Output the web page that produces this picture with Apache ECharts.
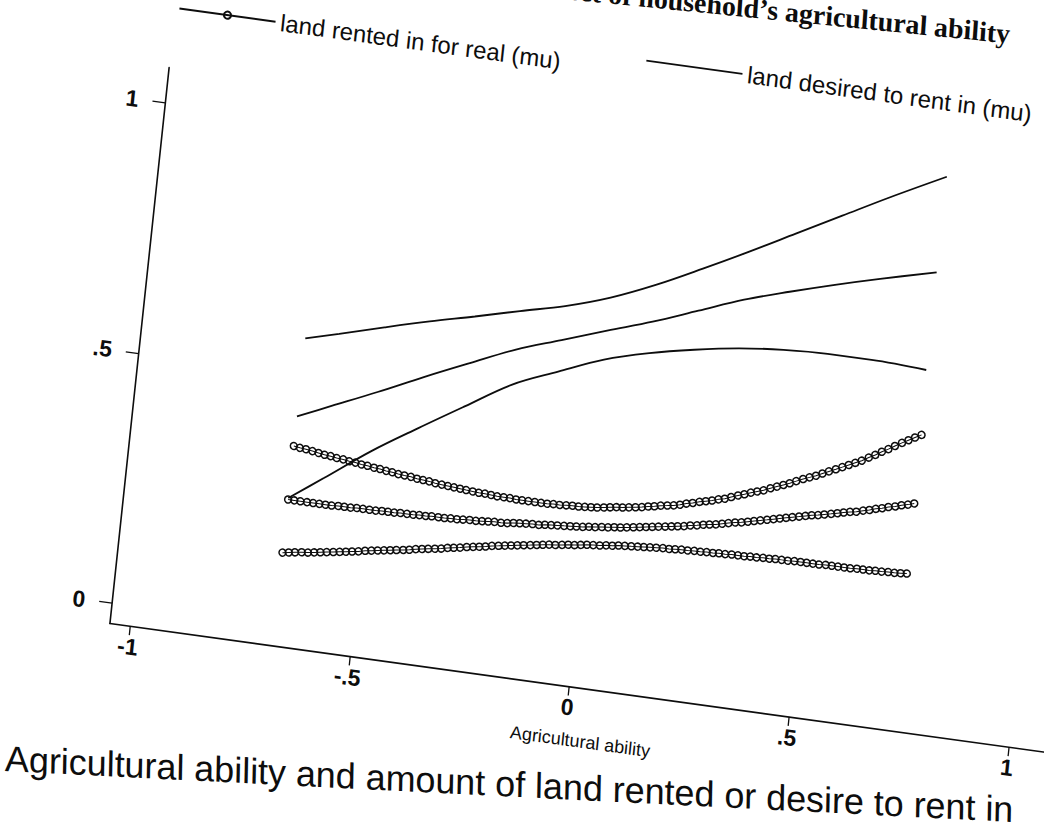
<!DOCTYPE html>
<html>
<head>
<meta charset="utf-8">
<script src="https://cdn.jsdelivr.net/npm/echarts@6/dist/echarts.min.js"></script>
<style>
  html, body { margin: 0; padding: 0; background: #fff; overflow: hidden; width: 1044px; height: 828px; }
  #chart {
    position: absolute; left: 0; top: 0; width: 1250px; height: 1050px;
    transform-origin: 0 0;
    transform: matrix(0.99076, 0.13638, -0.10588, 0.99444, -1.51, -218.16);
  }
</style>
</head>
<body>
<div id="chart"></div>
<script>
// ---- data ----
const titleText = "Effect of household\u2019s agricultural ability";
const captionText = "Agricultural ability and amount of land rented or desire to rent in";
const xAxisName = "Agricultural ability";
const seriesRentedName = "land rented in for real (mu)";
const seriesDesiredName = "land desired to rent in (mu)";
const xTickValues = [-1, -0.5, 0, 0.5, 1];
const yTickValues = [0, 0.5, 1];

// evaluation grid of the local fit for "land rented in" (one circle per point)
const abilityGrid = [
  -0.675,-0.661,-0.647,-0.632,-0.618,-0.604,-0.590,-0.576,-0.561,-0.547,
  -0.533,-0.519,-0.505,-0.490,-0.476,-0.462,-0.448,-0.434,-0.420,-0.405,
  -0.391,-0.377,-0.363,-0.349,-0.334,-0.320,-0.306,-0.292,-0.278,-0.263,
  -0.249,-0.235,-0.221,-0.207,-0.192,-0.178,-0.164,-0.150,-0.136,-0.121,
  -0.107,-0.093,-0.079,-0.065,-0.050,-0.036,-0.022,-0.008,0.006,0.020,
  0.035,0.049,0.063,0.077,0.091,0.106,0.120,0.134,0.148,0.162,
  0.177,0.191,0.205,0.219,0.233,0.248,0.262,0.276,0.290,0.304,
  0.318,0.333,0.347,0.361,0.375,0.389,0.404,0.418,0.432,0.446,
  0.460,0.475,0.489,0.503,0.517,0.531,0.546,0.560,0.574,0.588,
  0.602,0.617,0.631,0.645,0.659,0.673,0.688,0.702,0.716,0.730
];
const rentedUpper = [
  .359,.357,.356,.354,.352,.350,.349,.347,.346,.344,
  .343,.341,.340,.338,.337,.335,.334,.332,.331,.330,
  .328,.327,.326,.324,.323,.322,.321,.320,.319,.318,
  .317,.317,.316,.315,.315,.315,.314,.314,.314,.314,
  .314,.314,.315,.315,.316,.317,.317,.318,.319,.320,
  .322,.324,.326,.327,.329,.331,.333,.336,.338,.341,
  .343,.345,.348,.352,.355,.359,.362,.365,.369,.372,
  .377,.382,.386,.391,.395,.399,.405,.410,.415,.420,
  .426,.432,.437,.442,.448,.454,.460,.466,.472,.478,
  .484,.492,.499,.507,.514,.522,.530,.537,.544,.551
];
const rentedFit = [
  .252,.252,.252,.252,.252,.252,.252,.252,.253,.253,
  .253,.254,.254,.254,.254,.255,.255,.255,.256,.256,
  .256,.257,.257,.258,.258,.258,.259,.259,.260,.261,
  .261,.262,.263,.264,.264,.265,.267,.268,.269,.270,
  .270,.272,.273,.274,.275,.276,.277,.278,.280,.281,
  .283,.284,.286,.287,.289,.291,.293,.295,.297,.299,
  .301,.303,.305,.307,.310,.312,.315,.317,.319,.322,
  .325,.328,.330,.333,.336,.339,.342,.345,.348,.351,
  .354,.357,.360,.363,.365,.368,.371,.374,.377,.380,
  .382,.386,.389,.393,.396,.400,.403,.407,.410,.414
];
const rentedLower = [
  .146,.148,.150,.152,.153,.155,.157,.159,.161,.163,
  .165,.167,.169,.172,.174,.176,.178,.180,.182,.184,
  .186,.189,.191,.193,.195,.197,.200,.202,.204,.207,
  .209,.211,.213,.216,.218,.220,.222,.224,.226,.228,
  .230,.232,.234,.235,.237,.239,.240,.242,.244,.245,
  .246,.248,.249,.251,.252,.253,.254,.255,.256,.257,
  .258,.258,.259,.260,.260,.261,.261,.262,.262,.263,
  .263,.264,.264,.264,.265,.265,.266,.266,.267,.267,
  .267,.268,.268,.268,.268,.268,.269,.269,.269,.269,
  .269,.270,.270,.270,.271,.271,.272,.272,.273,.274
];

// "land desired to rent in": fit and confidence band (solid lines)
const desiredGrid  = [-0.675,-0.6,-0.5,-0.4,-0.3,-0.2,-0.1,0,0.1,0.2,0.3,0.4,0.5,0.6,0.725];
const desiredUpper = [.574,.592,.617,.641,.663,.686,.708,.737,.775,.819,.865,.913,.961,1.009,1.066];
const desiredFit   = [.418,.448,.488,.530,.570,.609,.640,.671,.701,.735,.769,.797,.823,.847,.875];
const desiredLower = [.255,.304,.370,.428,.484,.539,.577,.613,.638,.657,.672,.681,.685,.685,.680];

// ---- build chart ----
const pairs = (xs, ys) => xs.map((x, i) => [x, ys[i]]);
const fmt = v => (v === 0 ? '0' : String(v).replace('0.', '.'));
const sans = "'Liberation Sans', Arial, Helvetica, sans-serif";
const ink = '#0d0d0d';

function rentedSeries(ys) {
  return {
    type: 'line', name: seriesRentedName, data: pairs(abilityGrid, ys),
    symbol: 'circle', symbolSize: 7, showSymbol: true, showAllSymbol: true,
    itemStyle: { color: 'rgba(255,255,255,0)', borderColor: ink, borderWidth: 1.5 },
    lineStyle: { color: ink, width: 1 },
    emphasis: { disabled: true }, silent: true, clip: false, z: 3
  };
}
function desiredSeries(ys) {
  return {
    type: 'line', name: seriesDesiredName, data: pairs(desiredGrid, ys),
    smooth: 0.35, symbol: 'none', showSymbol: false,
    itemStyle: { color: ink },
    lineStyle: { color: ink, width: 1.8 },
    emphasis: { disabled: true }, silent: true, clip: false, z: 2
  };
}

const legendText = { fontSize: 24, color: ink, fontFamily: sans };
const chart = echarts.init(document.getElementById('chart'), null, { renderer: 'svg' });
chart.setOption({
  animation: false,
  backgroundColor: 'transparent',
  grid: { left: 200, top: 260, width: 960.4, height: 558.8, containLabel: false },
  legend: [
    { data: [seriesRentedName], left: 203, top: 188, padding: 0, itemWidth: 97, itemHeight: 9,
      selectedMode: false, textStyle: legendText },
    { data: [{ name: seriesDesiredName, icon: 'rect' }], left: 674, top: 176, padding: 0,
      itemWidth: 97, itemHeight: 1.8, selectedMode: false, textStyle: legendText,
      itemStyle: { color: ink, borderWidth: 0 } }
  ],
  xAxis: {
    type: 'value', min: -1.045, max: 1.12,
    name: xAxisName, nameLocation: 'middle', nameGap: 44,
    nameTextStyle: { fontSize: 18, color: ink, fontFamily: sans },
    axisLine: { show: true, onZero: false, lineStyle: { color: ink, width: 1.6 } },
    axisTick: { show: true, length: 9, customValues: xTickValues, lineStyle: { color: ink, width: 1.3 } },
    axisLabel: { customValues: xTickValues, formatter: fmt, margin: 9, fontSize: 23, fontWeight: 'bold',
                 color: ink, fontFamily: sans },
    splitLine: { show: false }
  },
  yAxis: {
    type: 'value', min: -0.04, max: 1.07,
    axisLine: { show: true, onZero: false, lineStyle: { color: ink, width: 1.6 } },
    axisTick: { show: true, length: 13, customValues: yTickValues, lineStyle: { color: ink, width: 1.3 } },
    axisLabel: { customValues: yTickValues, formatter: fmt, margin: 27, fontSize: 23, fontWeight: 'bold',
                 color: ink, fontFamily: sans },
    splitLine: { show: false }
  },
  graphic: [
    { type: 'text', x: 1032.9, y: 111.9, rotation: 0.037, silent: true,
      style: { text: titleText, fill: ink, font: "bold 28px 'Liberation Serif', 'Times New Roman', serif",
               align: 'right', verticalAlign: 'middle', textAlign: 'right', textVerticalAlign: 'middle' } },
    { type: 'text', x: 110, y: 967, rotation: 0.086, silent: true,
      style: { text: captionText, fill: ink, font: "36px " + sans,
               align: 'left', verticalAlign: 'middle', textAlign: 'left', textVerticalAlign: 'middle' } }
  ],
  series: [
    desiredSeries(desiredUpper), desiredSeries(desiredFit), desiredSeries(desiredLower),
    rentedSeries(rentedUpper), rentedSeries(rentedFit), rentedSeries(rentedLower)
  ]
});
</script>
</body>
</html>
